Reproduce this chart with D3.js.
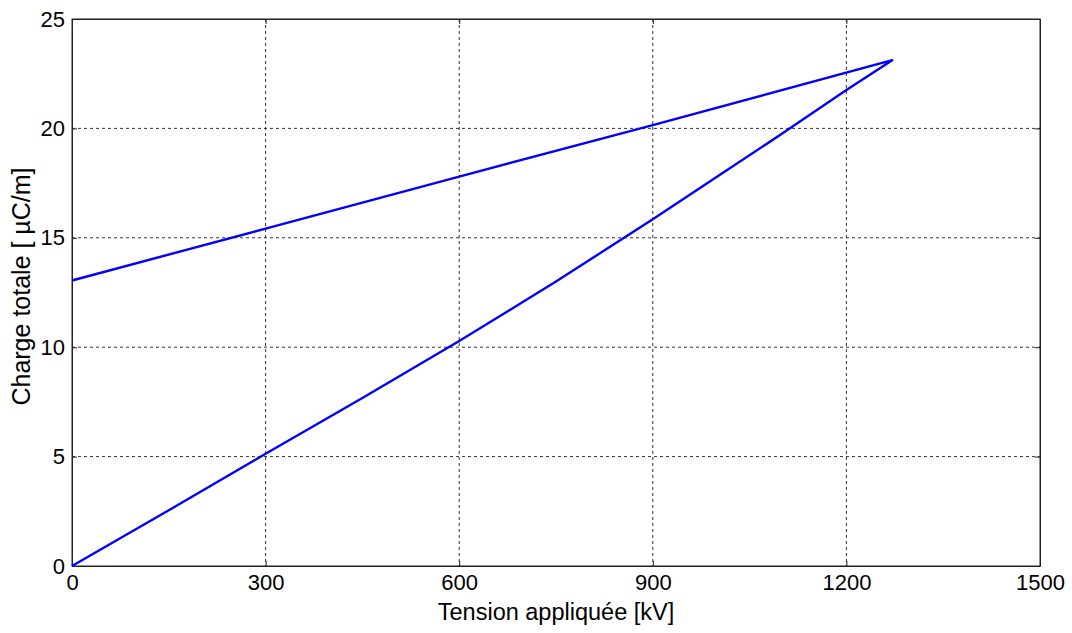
<!DOCTYPE html>
<meta charset="utf-8">
<style>
body { margin: 0; background: #fff; }
text { font-family: "Liberation Sans", Arial, sans-serif; fill: #000; }
.grid line { stroke: #333; stroke-dasharray: 3,3; stroke-width: 1; }
</style>
<body>
<script src="https://d3js.org/d3.v7.min.js"></script>
<script>
// data
var chargeVolts = [0, 150, 300, 450, 600, 750, 900, 1000, 1100, 1200, 1271];
var chargeQ     = [0, 2.55, 5.13, 7.68, 10.28, 13.0, 15.85, 17.8, 19.75, 21.75, 23.12];
var dischargeVolts = [1271, 900, 600, 300, 0];
var dischargeQ     = [23.12, 20.15, 17.8, 15.42, 13.05];
var xTicks = [0, 300, 600, 900, 1200, 1500];
var yTicks = [0, 5, 10, 15, 20, 25];

var margin = {top: 19, right: 32, bottom: 67, left: 72},
    width = 1072 - margin.left - margin.right,
    height = 633 - margin.top - margin.bottom;

var x = d3.scaleLinear().domain([0, 1500]).range([0, width]);
var y = d3.scaleLinear().domain([0, 25]).range([height, 0]);

var svg = d3.select("body").append("svg")
    .attr("width", 1072)
    .attr("height", 633)
  .append("g")
    .attr("transform", "translate(" + margin.left + "," + margin.top + ")");

// grid
svg.append("g").attr("class", "grid")
    .selectAll("line").data(xTicks.slice(1, -1)).enter().append("line")
    .attr("x1", d => x(d)).attr("x2", d => x(d))
    .attr("y1", 0).attr("y2", height);
svg.append("g").attr("class", "grid")
    .selectAll("line").data(yTicks.slice(1, -1)).enter().append("line")
    .attr("y1", d => y(d)).attr("y2", d => y(d))
    .attr("x1", 0).attr("x2", width);

// axes (ticks inside, like matlab)
var fmt = d3.format("d");
svg.append("g")
    .attr("transform", "translate(0," + height + ")")
    .call(d3.axisBottom(x).tickValues(xTicks).tickFormat(fmt).tickSizeInner(-5).tickSizeOuter(0).tickPadding(8));
svg.append("g")
    .call(d3.axisLeft(y).tickValues(yTicks).tickFormat(fmt).tickSizeInner(-5).tickSizeOuter(0).tickPadding(7));
svg.append("g")
    .call(d3.axisTop(x).tickValues(xTicks).tickSizeInner(-5).tickSizeOuter(0).tickFormat(""));
svg.append("g")
    .attr("transform", "translate(" + width + ",0)")
    .call(d3.axisRight(y).tickValues(yTicks).tickSizeInner(-5).tickSizeOuter(0).tickFormat(""));

svg.selectAll(".domain").attr("stroke", "#222");
svg.selectAll(".tick line").attr("stroke", "#222");
svg.selectAll(".tick text").style("font-size", "22px").attr("fill", "#000");

// box
svg.append("rect")
    .attr("width", width).attr("height", height)
    .attr("fill", "none").attr("stroke", "#222");

// the curve
var line = d3.line()
    .x(d => x(d[0]))
    .y(d => y(d[1]));

var up = chargeVolts.map((v, i) => [v, chargeQ[i]]);
var down = dischargeVolts.map((v, i) => [v, dischargeQ[i]]);

svg.append("path")
    .datum(up.concat(down))
    .attr("fill", "none")
    .attr("stroke", "#0000ff")
    .attr("stroke-width", 2.4)
    .attr("stroke-linejoin", "round")
    .attr("d", line);

// labels
svg.append("text")
    .attr("x", width / 2)
    .attr("y", height + 54)
    .attr("text-anchor", "middle")
    .style("font-size", "23.5px")
    .text("Tension appliquée [kV]");

svg.append("text")
    .attr("transform", "translate(" + (-42) + "," + (height / 2 - 6) + ") rotate(-90)")
    .attr("text-anchor", "middle")
    .style("font-size", "25px")
    .text("Charge totale [ µC/m]");
</script>
</body>
